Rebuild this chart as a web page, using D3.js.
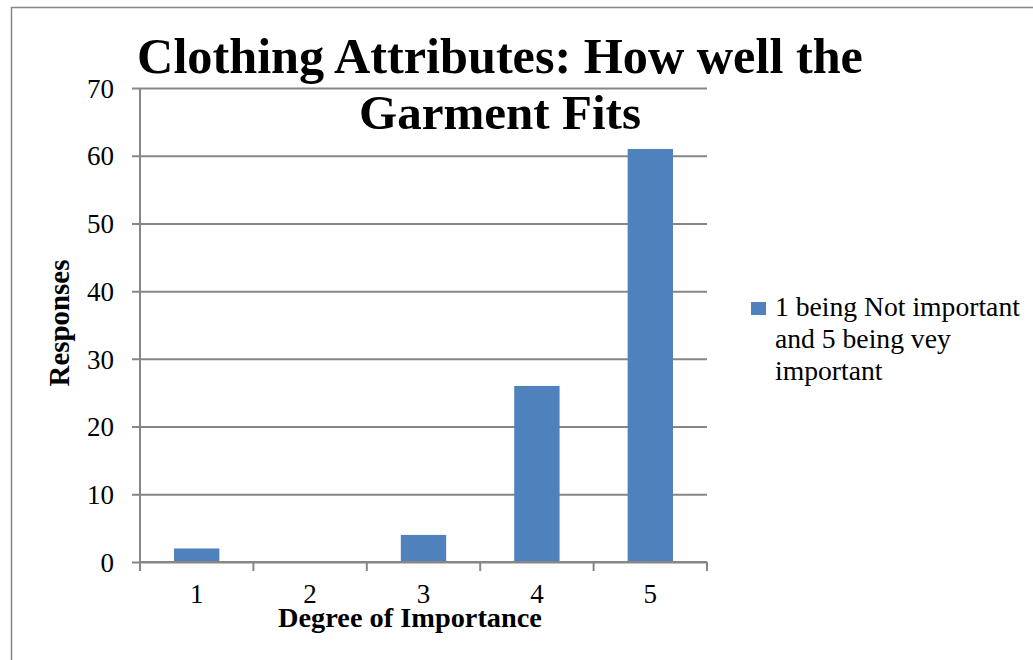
<!DOCTYPE html>
<html>
<head>
<meta charset="utf-8">
<script src="https://cdn.jsdelivr.net/npm/d3@7"></script>
<style>
  body { margin: 0; background: #fff; }
  text { font-family: "Liberation Serif", "DejaVu Serif", serif; fill: #000; }
  .title { font-weight: bold; font-size: 50px; }
  .axis-label { font-weight: bold; font-size: 27px; }
  .tick text, .cat { font-size: 27px; }
  .legend-text { font-size: 28px; }
</style>
</head>
<body>
<svg width="1033" height="660"></svg>
<script>
  const categories = ['1', '2', '3', '4', '5'];
  const responses = [2, 0, 4, 26, 61];
  const yTicks = [0, 10, 20, 30, 40, 50, 60, 70];
  const titleLines = ['Clothing Attributes: How well the', 'Garment Fits'];
  const legendLines = ['1 being Not important', 'and 5 being vey', 'important'];
  const xAxisLabelText = 'Degree of Importance';
  const yAxisLabelText = 'Responses';

  const svg = d3.select('svg');
  const width = +svg.attr('width');
  const height = +svg.attr('height');

  // scale a text's font so it spans the wanted width
  const fitWidth = (sel, target) => {
    const node = sel.node();
    const w = node.getComputedTextLength();
    const size = parseFloat(getComputedStyle(node).fontSize);
    sel.style('font-size', (size * target / w) + 'px');
  };

  // chart frame (top and left edges only are visible)
  svg.append('path')
    .attr('d', `M11.5,${height} V7.5 H${width}`)
    .attr('fill', 'none')
    .attr('stroke', '#868686')
    .attr('stroke-width', 1.5);

  const margin = { top: 88, right: 326, bottom: 98, left: 140 };
  const innerWidth = width - margin.left - margin.right;
  const innerHeight = height - margin.top - margin.bottom;

  const g = svg.append('g')
    .attr('transform', `translate(${margin.left},${margin.top})`);

  const xScale = d3.scaleBand()
    .domain(categories)
    .range([0, innerWidth])
    .paddingInner(0.6)
    .paddingOuter(0.3);

  const yScale = d3.scaleLinear()
    .domain([0, 70])
    .range([innerHeight, 0]);

  // y axis with gridlines
  const yAxisG = g.append('g')
    .call(d3.axisLeft(yScale).tickValues(yTicks).tickSize(-innerWidth - 8).tickPadding(18))
    .attr('transform', 'translate(-8,0)')
    .attr('font-family', null)
    .attr('font-size', null);
  yAxisG.select('.domain').remove();
  yAxisG.selectAll('.tick line').attr('stroke', '#868686').attr('stroke-width', 2);
  yAxisG.selectAll('.tick text').attr('dy', '0.34em');

  g.append('line')
    .attr('x1', 0).attr('x2', 0)
    .attr('y1', 0).attr('y2', innerHeight)
    .attr('stroke', '#868686').attr('stroke-width', 2);

  // bars
  g.selectAll('rect.bar').data(responses)
    .enter().append('rect')
      .attr('class', 'bar')
      .attr('x', (d, i) => xScale(categories[i]))
      .attr('y', d => yScale(d))
      .attr('width', xScale.bandwidth())
      .attr('height', d => innerHeight - yScale(d))
      .attr('fill', '#4f81bd');

  // x axis: ticks between categories
  const step = xScale.step();
  const xAxisG = g.append('g')
    .attr('transform', `translate(0,${innerHeight})`);
  xAxisG.append('line')
    .attr('x1', 0).attr('x2', innerWidth)
    .attr('stroke', '#868686').attr('stroke-width', 2);
  xAxisG.selectAll('line.sep').data(d3.range(categories.length + 1))
    .enter().append('line')
      .attr('class', 'sep')
      .attr('x1', i => i * step).attr('x2', i => i * step)
      .attr('y1', 0).attr('y2', 9)
      .attr('stroke', '#868686').attr('stroke-width', 2);
  xAxisG.selectAll('text.cat').data(categories)
    .enter().append('text')
      .attr('class', 'cat')
      .attr('x', d => xScale(d) + xScale.bandwidth() / 2)
      .attr('y', 41)
      .attr('text-anchor', 'middle')
      .text(d => d);

  const xLabel = xAxisG.append('text')
    .attr('class', 'axis-label')
    .attr('x', 270)
    .attr('y', 65)
    .attr('text-anchor', 'middle')
    .text(xAxisLabelText);
  fitWidth(xLabel, 264);

  const yLabel = g.append('text')
    .attr('class', 'axis-label')
    .attr('transform', `translate(-71,${innerHeight / 2 - 2}) rotate(-90)`)
    .attr('text-anchor', 'middle')
    .text(yAxisLabelText);
  fitWidth(yLabel, 127);

  // title
  const titles = svg.selectAll('text.title').data(titleLines)
    .enter().append('text')
      .attr('class', 'title')
      .attr('x', 500)
      .attr('y', (d, i) => 73 + i * 56)
      .attr('text-anchor', 'middle')
      .text(d => d);
  fitWidth(d3.select(titles.nodes()[0]), 726);
  fitWidth(d3.select(titles.nodes()[1]), 282);

  // legend
  const legend = svg.append('g').attr('transform', 'translate(751,302)');
  legend.append('rect')
    .attr('width', 15).attr('height', 13)
    .attr('fill', '#4f81bd');
  const legendTexts = legend.selectAll('text').data(legendLines)
    .enter().append('text')
      .attr('class', 'legend-text')
      .attr('x', 24)
      .attr('y', (d, i) => 14 + i * 32)
      .text(d => d);
  fitWidth(d3.select(legendTexts.nodes()[0]), 245);
  legendTexts.style('font-size', d3.select(legendTexts.nodes()[0]).style('font-size'));
</script>
</body>
</html>
